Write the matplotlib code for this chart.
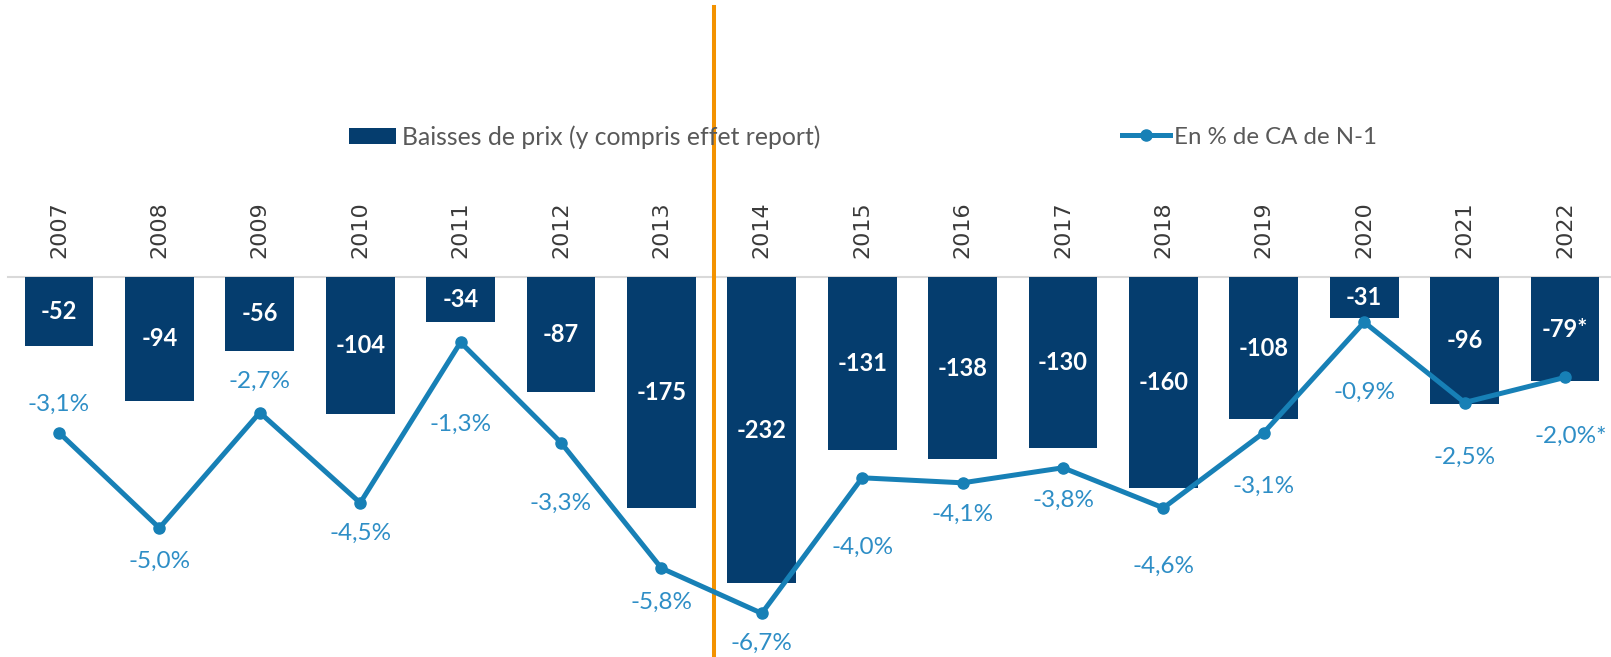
import matplotlib
matplotlib.use("Agg")
import matplotlib.pyplot as plt
import numpy as np

# données
years = ["2007", "2008", "2009", "2010", "2011", "2012", "2013", "2014",
         "2015", "2016", "2017", "2018", "2019", "2020", "2021", "2022"]
baisses = [-52, -94, -56, -104, -34, -87, -175, -232,
           -131, -138, -130, -160, -108, -31, -96, -79]
baisses_labels = ["-52", "-94", "-56", "-104", "-34", "-87", "-175", "-232",
                  "-131", "-138", "-130", "-160", "-108", "-31", "-96", "-79*"]
pct_ca = [-3.1, -5.0, -2.7, -4.5, -1.3, -3.3, -5.8, -6.7,
          -4.0, -4.1, -3.8, -4.6, -3.1, -0.9, -2.5, -2.0]
pct_labels = ["-3,1%", "-5,0%", "-2,7%", "-4,5%", "-1,3%", "-3,3%", "-5,8%", "-6,7%",
              "-4,0%", "-4,1%", "-3,8%", "-4,6%", "-3,1%", "-0,9%", "-2,5%", "-2,0%*"]

# décalage des étiquettes % (pixels, + = vers le bas)
pct_dy = [-28, 33, -31, 30, 82, 61, 34, 30, 70, 32, 33, 58, 54, 70, 55, 59]
pct_dx = [0, 0, 0, 0, 0, 0, 0, 0, 0, 0, 0, 0, 0, 0, 0, 6]

BAR_COLOR = "#053D6E"
LINE_COLOR = "#1780B6"
PCT_TEXT = "#2E8EC6"
GREY_TEXT = "#595959"
W, H = 1611, 657
FONT = ["Lato", "DejaVu Sans"]

fig = plt.figure(figsize=(W / 100, H / 100), dpi=100)
ax = fig.add_axes([0, 0, 1, 1])
ax2 = ax.twinx()
ax2.set_position([0, 0, 1, 1])

x = np.arange(len(years))
spacing = 100.4
x0 = 59
ax.set_xlim(-x0 / spacing, (W - x0) / spacing)

base_px = 277
bar_scale = 1.319   # px par unité
pct_scale = 50.2    # px par %
ax.set_ylim(-(H - base_px) / bar_scale, base_px / bar_scale)
ax2.set_ylim(-(H - base_px) / pct_scale, base_px / pct_scale)

for a in (ax, ax2):
    a.axis("off")

# ligne de base
ax.plot([(8 - x0) / spacing, (W - x0) / spacing], [0, 0], color="#D9D9D9", lw=1.5, zorder=1)

ax.bar(x, baisses, width=0.687, color=BAR_COLOR, zorder=2,
       label="Baisses de prix (y compris effet report)")
for xi, v, lab in zip(x, baisses, baisses_labels):
    ax.text(xi, v / 2, lab, ha="center", va="center", color="white",
            fontsize=17, fontweight="bold", family=FONT, zorder=3)

# années
for xi, y in zip(x, years):
    ax.text(xi, 19 / bar_scale, y, rotation=90, ha="center", va="bottom",
            color="#3A3A3A", fontsize=16, family="DejaVu Sans")

ax2.plot(x, pct_ca, color=LINE_COLOR, lw=3.6, marker="o", markersize=8,
         zorder=4, label="En % de CA de N-1")
for xi, v, lab, dx, dy in zip(x, pct_ca, pct_labels, pct_dx, pct_dy):
    ax2.annotate(lab, (xi, v), xytext=(dx * 0.72, -dy * 0.72), textcoords="offset points",
                 ha="center", va="center", color=PCT_TEXT, fontsize=17.5, family=FONT)

# ligne verticale orange
ax.axvline((714 - x0) / spacing, ymin=0, ymax=1 - 7 / H, color="#F39200", lw=2.9, zorder=5)

# légendes
leg1 = ax.legend(loc="center left", bbox_to_anchor=(349 / W, 1 - 137 / H),
                 bbox_transform=fig.transFigure, frameon=False, borderpad=0,
                 borderaxespad=0, handlelength=1.9, handleheight=0.65,
                 handletextpad=0.25, prop={"family": FONT, "size": 17.8})
for t in leg1.get_texts():
    t.set_color(GREY_TEXT)
leg2 = ax2.legend(loc="center left", bbox_to_anchor=(1122 / W, 1 - 137 / H),
                  bbox_transform=fig.transFigure, frameon=False, borderpad=0,
                  borderaxespad=0, handlelength=2.0, handletextpad=0.15,
                  prop={"family": FONT, "size": 17.3})
for t in leg2.get_texts():
    t.set_color(GREY_TEXT)

fig.savefig("out.png", dpi=100)
